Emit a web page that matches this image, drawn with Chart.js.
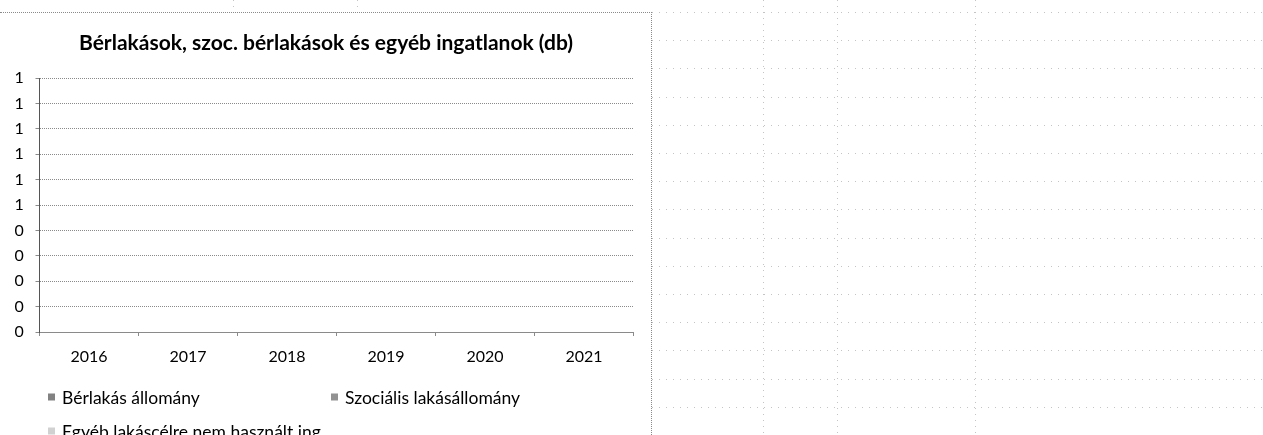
<!DOCTYPE html>
<html lang="hu">
<head>
<meta charset="utf-8">
<title>Bérlakások</title>
<script src="https://cdn.jsdelivr.net/npm/chart.js@4/dist/chart.umd.min.js"></script>
<style>
  html, body { margin: 0; padding: 0; background: #fff; overflow: hidden; }
  body { width: 1263px; height: 435px; position: relative; font-family: Lato, "Open Sans", sans-serif; }
  .sheet-h { position: absolute; height: 1px; left: 652px; right: 0;
    background: repeating-linear-gradient(to right, #c4c4c4 0 1px, transparent 1px 7px); }
  .sheet-v { position: absolute; width: 1px; top: 0; bottom: 0;
    background: repeating-linear-gradient(to bottom, #c4c4c4 0 1px, transparent 1px 6px); }
  #box { position: absolute; left: 0; top: 12px; width: 651px; height: 430px;
    border-top: 1px dotted #8a8a8a; border-right: 1px dotted #8a8a8a; }
  #chart-wrap { position: absolute; left: 0; top: 0; width: 651px; height: 360px; }
  #legend { position: absolute; left: 0; top: 0; width: 651px; height: 430px; pointer-events: none; }
  .lg-item { position: absolute; display: flex; align-items: center; font-size: 17.5px; color: #000;
    transform: translateY(-50%); white-space: nowrap; }
  .lg-box { width: 7px; height: 7px; margin-right: 7px; }
</style>
</head>
<body>
<div id="sheet"></div>
<div id="box">
  <div id="chart-wrap"><canvas id="bar-chart"></canvas></div>
  <div id="legend"></div>
</div>
<script>
// ---- data ----
const years = ['2016', '2017', '2018', '2019', '2020', '2021'];
const berlakas = [0, 0, 0, 0, 0, 0];
const szocialis = [0, 0, 0, 0, 0, 0];
const egyeb = [0, 0, 0, 0, 0, 0];
const seriesNames = ['Bérlakás állomány', 'Szociális lakásállomány', 'Egyéb lakáscélre nem használt ing.'];
const chartTitle = 'Bérlakások, szoc. bérlakások és egyéb ingatlanok (db)';

// legend swatches (Excel pattern fills)
const swatches = [
  'repeating-conic-gradient(#333 0 25%, #d0d0d0 0 50%) 0 0/2px 2px',
  'repeating-conic-gradient(#4a4a4a 0 25%, #dadada 0 50%) 0 0/2px 2px',
  'repeating-conic-gradient(#b0b0b0 0 25%, #f2f2f2 0 50%) 0 0/2px 2px',
];
const barColors = ['#6e6e6e', '#8c8c8c', '#d2d2d2'];

// ---- spreadsheet gridlines behind the chart ----
const sheet = document.getElementById('sheet');
for (let k = 0; k < 16; k++) {
  const d = document.createElement('div');
  d.className = 'sheet-h';
  d.style.top = Math.round(12 + k * 28.2) + 'px';
  sheet.appendChild(d);
}
[233, 357, 763, 837, 975].forEach(x => {
  const d = document.createElement('div');
  d.className = 'sheet-v';
  d.style.left = x + 'px';
  if (x < 652) d.style.bottom = (435 - 12) + 'px';
  sheet.appendChild(d);
});

// ---- chart ----
const FONT = 'Lato, "Open Sans", sans-serif';
const ctx = document.getElementById('bar-chart').getContext('2d');

const chart = new Chart(ctx, {
  type: 'bar',
  data: {
    labels: years,
    datasets: [
      { label: seriesNames[0], data: berlakas, backgroundColor: barColors[0], borderWidth: 0 },
      { label: seriesNames[1], data: szocialis, backgroundColor: barColors[1], borderWidth: 0 },
      { label: seriesNames[2], data: egyeb, backgroundColor: barColors[2], borderWidth: 0 },
    ]
  },
  options: {
    responsive: true,
    maintainAspectRatio: false,
    animation: false,
    // left padding re-centres the title; mirrored y labels are pulled back into it
    layout: { padding: { left: 18.5, right: 17.5, top: 0, bottom: 0 } },
    plugins: {
      legend: { display: false },
      tooltip: { enabled: false },
      title: {
        display: true,
        text: chartTitle,
        color: '#000',
        font: { family: FONT, size: 21, weight: 'bold' },
        padding: { top: 17.4, bottom: 22.4 }
      }
    },
    scales: {
      x: {
        offset: true,
        grid: { display: true, drawOnChartArea: false, drawTicks: true, tickLength: 4, offset: true, color: '#8a8a8a' },
        border: { display: true, color: '#8a8a8a', width: 1, dash: [1, 1] },
        ticks: { color: '#000', font: { family: FONT, size: 16 }, padding: 11, maxRotation: 0 },
        afterFit: (s) => { s.height = 41; }
      },
      y: {
        min: 0,
        max: 1,
        ticks: {
          stepSize: 0.1,
          color: '#000',
          font: { family: FONT, size: 16 },
          mirror: true,
          padding: -25,
          callback: (v) => String(Math.round(v))
        },
        grid: { color: '#8a8a8a', tickLength: 4, lineWidth: 1 },
        border: { display: true, color: '#555', width: 1, dash: [1, 1] },
        afterFit: (s) => { s.width = 21; }
      }
    }
  }
});

// ---- HTML legend in two columns, like the Excel one ----
const legendBox = document.getElementById('legend');
chart.data.datasets.forEach((ds, i) => {
  const col = i % 2, row = Math.floor(i / 2);
  const item = document.createElement('div');
  item.className = 'lg-item';
  item.style.left = (48 + col * 283) + 'px';
  item.style.top = (384 + row * 34) + 'px';
  const sw = document.createElement('span');
  sw.className = 'lg-box';
  sw.style.background = swatches[i];
  const tx = document.createElement('span');
  tx.textContent = ds.label;
  item.appendChild(sw);
  item.appendChild(tx);
  legendBox.appendChild(item);
});
</script>
</body>
</html>
